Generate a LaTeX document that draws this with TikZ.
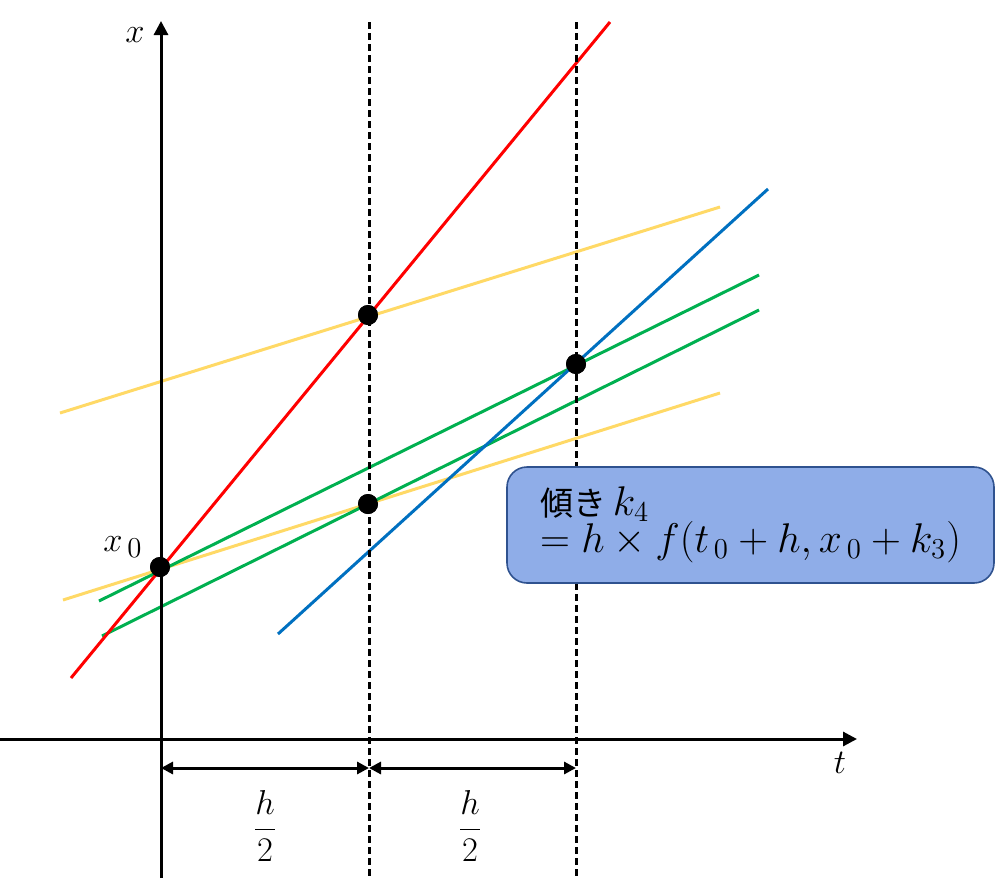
\documentclass[tikz,border=0pt]{standalone}
\usepackage{fontspec}
\newfontfamily\cjk{Noto Sans CJK JP}
\usetikzlibrary{arrows.meta}
\definecolor{cred}{HTML}{FF0000}
\definecolor{cyellow}{HTML}{FFD966}
\definecolor{cgreen}{HTML}{00B050}
\definecolor{cblue}{HTML}{0070C0}
\definecolor{boxfill}{HTML}{8FADE8}
\definecolor{boxedge}{HTML}{2F528F}
\begin{document}
\begin{tikzpicture}[x=0.5pt,y=-0.5pt,
  every node/.style={font=\fontsize{19}{22}\selectfont},
  axis/.style={line width=1.5pt,-{Triangle[length=7pt,width=7pt]}},
  guide/.style={line width=1.5pt,dash pattern=on 3.5pt off 2pt},
  dim/.style={line width=1.5pt,{Triangle[length=6pt,width=6pt]}-{Triangle[length=6pt,width=6pt]}},
  slope/.style={line width=1.5pt},
  pt/.style={circle,fill=black,inner sep=0pt,minimum size=10pt},
  box/.style={draw=boxedge,fill=boxfill,line width=0.8pt,rounded corners=10pt,
    minimum width=243.5pt,minimum height=58pt,text width=210.5pt,
    inner xsep=16.5pt,inner ysep=0pt,align=left,
    font=\fontsize{22}{18.5}\selectfont,
    execute at begin node={\lineskiplimit=-50pt\relax}}]
\useasboundingbox (0,0) rectangle (995,878);

% points
\node[pt] (p0) at (160,567) {};
\node[pt] (p1) at (368,315) {};
\node[pt] (p2) at (368,504) {};
\node[pt] (p3) at (576,364) {};

% end points of slope lines
\coordinate (ya) at (60,413);   \coordinate (yb) at (720,207);
\coordinate (yc) at (63,600);   \coordinate (yd) at (720,393);
\coordinate (ga) at (99,601);   \coordinate (gb) at (759,275);
\coordinate (gc) at (102,636);  \coordinate (gd) at (759,310);
\coordinate (ra) at (71,678);   \coordinate (rb) at (610,22);
\coordinate (ba) at (278,634);  \coordinate (bb) at (768,189);

\draw[slope,cyellow] (ya) -- (yb);
\draw[slope,cyellow] (yc) -- (yd);
\draw[slope,cgreen] (ga) -- (gb);
\draw[slope,cgreen] (gc) -- (gd);
\draw[slope,cred] (ra) -- (rb);
\draw[slope,cblue] (ba) -- (bb);

% axes
\coordinate (xl) at (0,739);   \coordinate (xr) at (857,739);
\coordinate (yb0) at (161,878); \coordinate (yt) at (161,21);
\draw[axis] (xl) -- (xr);
\draw[axis] (yb0) -- (yt);

% dashed guides
\coordinate (d1t) at (369,22); \coordinate (d1b) at (369,878);
\coordinate (d2t) at (576,22); \coordinate (d2b) at (576,878);
\draw[guide] (d1t) -- (d1b);
\draw[guide] (d2t) -- (d2b);

% redraw points on top
\node[pt] at (p0) {};
\node[pt] at (p1) {};
\node[pt] at (p2) {};
\node[pt] at (p3) {};

% dimension arrows
\coordinate (m0) at (161,768); \coordinate (m1) at (369,768); \coordinate (m2) at (576,768);
\draw[dim] (m0) -- (m1);
\draw[dim] (m1) -- (m2);

% labels
\node (lx) at (135,35) {$x$};
\node (lt) at (840,763) {$t$};
\node (lx0) at (123,547) {$x_{\,0}$};
\node (h1) at (265,826) {$\displaystyle\frac{h}{2}$};
\node (h2) at (470,826) {$\displaystyle\frac{h}{2}$};

% box
\node[box] (k4) at (750.5,525) {{\cjk\fontsize{16.5}{16.5}\selectfont 傾き}$\,k_4$\\$=h\times f(t_{\,0}+h,x_{\,0}+k_3)$};
\end{tikzpicture}
\end{document}
